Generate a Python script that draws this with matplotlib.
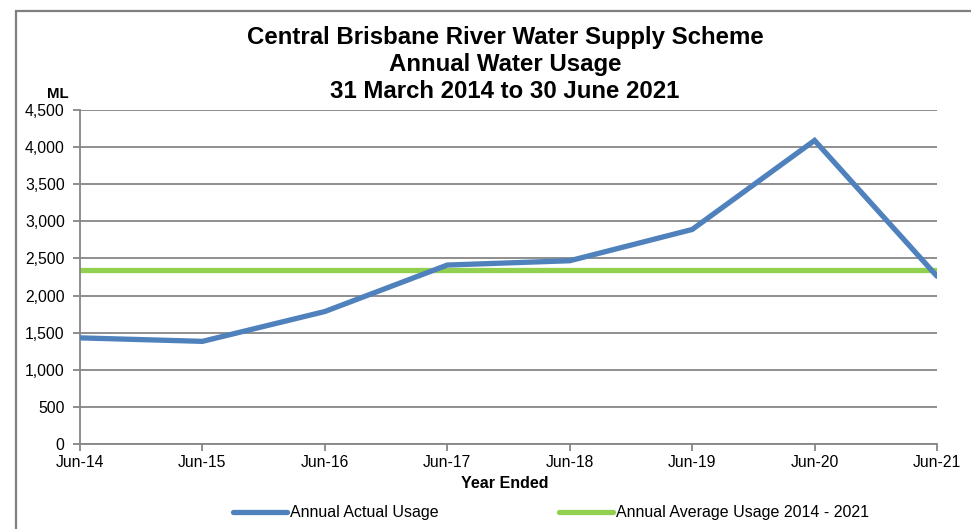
import matplotlib
matplotlib.use("Agg")
import matplotlib.pyplot as plt
from matplotlib.patches import Rectangle

plt.rcParams['font.family'] = ['Liberation Sans', 'DejaVu Sans']

categories = ["Jun-14", "Jun-15", "Jun-16", "Jun-17", "Jun-18", "Jun-19", "Jun-20", "Jun-21"]
actual_usage = [1430, 1383, 1785, 2411, 2469, 2890, 4090, 2260]
average_usage = [2340] * len(categories)
y_ticks = [0, 500, 1000, 1500, 2000, 2500, 3000, 3500, 4000, 4500]

fig = plt.figure(figsize=(9.71, 5.29), dpi=100)
ax = fig.add_axes([80/971, 1-444/529, (937-80)/971, (444-110)/529])

x = list(range(len(categories)))
l1, = ax.plot(x, actual_usage, color='#4F81BD', lw=3.8, solid_capstyle='round', solid_joinstyle='miter', zorder=3,
              label='Annual Actual Usage')
l2, = ax.plot(x, average_usage, color='#92D050', lw=3.8, solid_capstyle='round', zorder=2,
              label='Annual Average Usage 2014 - 2021')

ax.set_xlim(0, len(categories)-1)
ax.set_ylim(0, 4500)
ax.set_yticks(y_ticks)
ax.set_yticklabels([f"{v:,}" for v in y_ticks], fontsize=11.3)
ax.set_xticks(x)
ax.set_xticklabels(categories, fontsize=11.3)
ax.yaxis.grid(True, color='#868686', lw=1.3)
ax.set_axisbelow(True)
for s in ['top', 'right']:
    ax.spines[s].set_visible(False)
for s in ['left', 'bottom']:
    ax.spines[s].set_color('#868686')
    ax.spines[s].set_linewidth(1.3)
ax.tick_params(axis='both', colors='#868686', length=5, width=1.3, labelcolor='black')
ax.tick_params(axis='x', pad=3)
ax.tick_params(axis='y', pad=6)

tx = 505/971
fig.text(tx, 1-37.5/529, "Central Brisbane River Water Supply Scheme", ha='center', va='center',
         fontsize=17.3, fontweight='bold')
fig.text(tx, 1-64.5/529, "Annual Water Usage", ha='center', va='center', fontsize=17.3, fontweight='bold')
fig.text(tx, 1-91.5/529, "31 March 2014 to 30 June 2021", ha='center', va='center', fontsize=17.3, fontweight='bold')
fig.text(57.5/971, 1-94.5/529, "ML", ha='center', va='center', fontsize=10.8, fontweight='bold')
fig.text(505/971, 1-484/529, "Year Ended", ha='center', va='center', fontsize=11.5, fontweight='bold')

leg1 = fig.legend([l1], ['Annual Actual Usage'], loc='center left', bbox_to_anchor=(233/971, 1-513/529),
                  frameon=False, fontsize=11.5, handlelength=3.4, handletextpad=0.15, borderpad=0, borderaxespad=0)
leg2 = fig.legend([l2], ['Annual Average Usage 2014 - 2021'], loc='center left', bbox_to_anchor=(559/971, 1-513/529),
                  frameon=False, fontsize=11.5, handlelength=3.4, handletextpad=0.15, borderpad=0, borderaxespad=0)

fig.patches.append(Rectangle((16/971, -0.1), 1.2, 1-11/529+0.1, transform=fig.transFigure,
                             fill=False, edgecolor='#7F7F7F', lw=1.6))

fig.savefig("out.png", dpi=100)
